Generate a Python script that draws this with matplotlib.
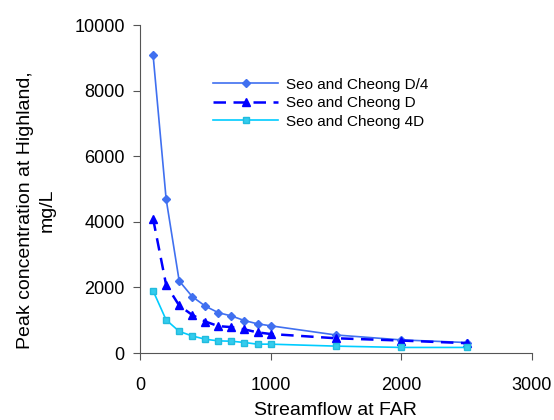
import matplotlib
matplotlib.use("Agg")
import matplotlib.pyplot as plt

plt.rcParams["font.family"] = ["Liberation Sans", "DejaVu Sans"]

flow = [100, 200, 300, 400, 500, 600, 700, 800, 900, 1000, 1500, 2000, 2500]
d_quarter = [9100, 4700, 2200, 1720, 1430, 1230, 1130, 990, 890, 830, 550, 400, 320]
d_one = [4100, 2080, 1450, 1160, 960, 820, 790, 720, 630, 580, 450, 380, 300]
d_four = [1900, 1010, 660, 520, 420, 370, 360, 320, 270, 270, 210, 170, 170]

fig = plt.figure(figsize=(5.54, 4.20), dpi=100)
ax = fig.add_axes([0.2527, 0.1595, 0.7073, 0.7805])

ax.plot(flow, d_quarter, color="#4070F0", lw=1.2, marker="D", ms=4,
        label="Seo and Cheong D/4")
ax.plot(flow, d_one, color="#0000FF", lw=1.8, ls=(0, (5, 3)), marker="^", ms=6,
        label="Seo and Cheong D")
ax.plot(flow, d_four, color="#00CCFF", lw=1.2, marker="s", ms=4.5,
        mfc="#33CCEE", mec="#22BBDD", label="Seo and Cheong 4D")

ax.set_xlim(0, 3000)
ax.set_ylim(0, 10000)
ax.set_xticks([0, 1000, 2000, 3000])
ax.set_yticks([0, 2000, 4000, 6000, 8000, 10000])
ax.tick_params(labelsize=13, direction="out", length=5, color="#555555")
ax.tick_params(axis="y", pad=6)
ax.tick_params(axis="x", pad=12)
ax.spines["top"].set_visible(False)
ax.spines["right"].set_visible(False)
ax.spines["left"].set_color("#555555")
ax.spines["bottom"].set_color("#555555")

ax.set_xlabel("Streamflow at FAR", fontsize=14)
ax.xaxis.set_label_coords(0.5, -0.15)
ax.set_ylabel("Peak concentration at Highland,\nmg/L", fontsize=14,
              linespacing=1.35)
ax.yaxis.set_label_coords(-0.215, 0.435)

ax.legend(loc="upper left", bbox_to_anchor=(0.152, 0.882), frameon=False,
          fontsize=11, handlelength=4.25, labelspacing=0.3, handletextpad=0.5)

fig.savefig("out.png", dpi=100)
